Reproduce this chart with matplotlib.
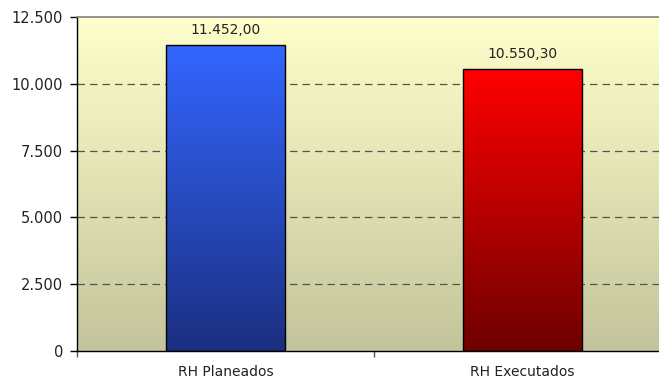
import numpy as np
import matplotlib
matplotlib.use("Agg")
import matplotlib.pyplot as plt
from matplotlib.colors import LinearSegmentedColormap
from matplotlib.ticker import FuncFormatter

categories = ["RH Planeados", "RH Executados"]
values = [11452.00, 10550.30]
value_labels = ["11.452,00", "10.550,30"]
y_ticks = [0, 2500, 5000, 7500, 10000, 12500]

bar_gradients = [
    ("#1b2f80", "#3366ff"),   # blue: dark bottom -> bright top
    ("#6e0000", "#ff0000"),   # red: dark bottom -> bright top
]

plt.rcParams["font.family"] = ["DejaVu Sans"]

fig = plt.figure(figsize=(6.59, 3.83), dpi=100)
ax = fig.add_axes([77 / 659, 32 / 383, 582 / 659, 334 / 383])

x = np.arange(len(categories))
xlim = (-0.5, 1.46)

# plot-area background gradient (khaki bottom -> pale yellow top)
bg_cmap = LinearSegmentedColormap.from_list("bg", ["#c4c49c", "#ffffcc"])
grad = np.linspace(0, 1, 256).reshape(-1, 1)
ax.imshow(grad, cmap=bg_cmap, origin="lower", aspect="auto",
          extent=[xlim[0], xlim[1], 0, 12500], zorder=0)

# dashed grid lines
for yv in y_ticks[1:-1]:
    ax.axhline(yv, color="#55554a", lw=0.9, ls=(0, (6, 4)), zorder=1)

bars = ax.bar(x, values, width=0.4, facecolor="none", edgecolor="black",
              lw=1.0, zorder=3)
for rect, (c0, c1), v, lab in zip(bars, bar_gradients, values, value_labels):
    cmap = LinearSegmentedColormap.from_list("b", [c0, c1])
    xl = rect.get_x()
    im = ax.imshow(grad, cmap=cmap, origin="lower", aspect="auto",
                   extent=[xl, xl + rect.get_width(), 0, v], zorder=2)
    im.set_clip_path(rect)
    ax.annotate(lab, (rect.get_x() + rect.get_width() / 2, v),
                xytext=(0, 6), textcoords="offset points",
                ha="center", va="bottom", fontsize=10, color="#222222")

ax.set_xlim(*xlim)
ax.set_ylim(0, 12500)

ax.set_yticks(y_ticks)
ax.yaxis.set_major_formatter(FuncFormatter(lambda v, p: f"{int(v):,}".replace(",", ".")))
ax.tick_params(axis="y", length=5, width=1, pad=5, labelsize=10.5,
               colors="black", labelcolor="#222222")

ax.set_xticks(x)
ax.set_xticklabels(categories)
ax.set_xticks([-0.5, 0.5], minor=True)
ax.tick_params(axis="x", which="major", length=0, pad=10, labelsize=10,
               labelcolor="#222222")
ax.tick_params(axis="x", which="minor", length=4, width=1, color="#555555")

ax.spines["right"].set_visible(False)
ax.spines["top"].set_color("#808080")
ax.spines["top"].set_linewidth(1.2)
for s in ["left", "bottom"]:
    ax.spines[s].set_color("black")
    ax.spines[s].set_linewidth(1)

fig.savefig("out.png", dpi=100, facecolor="white")
